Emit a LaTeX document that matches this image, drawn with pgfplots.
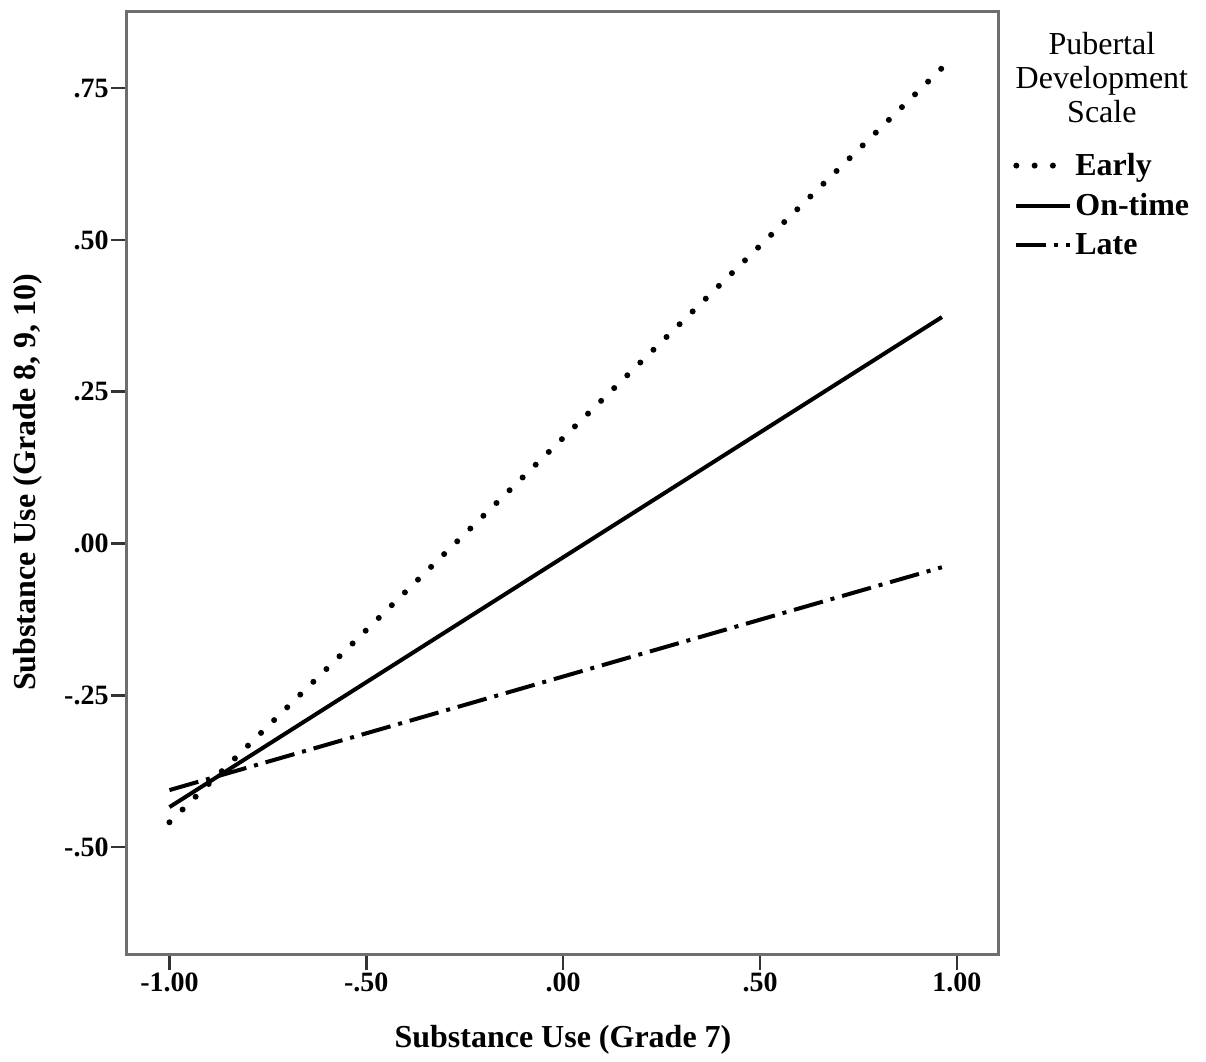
\documentclass[border=0pt]{standalone}
\usepackage{fontspec}
\setmainfont{Liberation Serif}
\usepackage{pgfplots}
\pgfplotsset{compat=1.18}
\definecolor{frame}{HTML}{6E6E6E}
\begin{document}
\begin{tikzpicture}
\begin{axis}[
  scale only axis, width=436pt, height=471.5pt,
  xmin=-1.108, xmax=1.107, ymin=-0.676, ymax=0.877,
  clip=false,
  axis line style={frame, line width=1.5pt},
  tick style={black!80, line width=1.3pt},
  tick align=outside, major tick length=8pt,
  xtick={-1,-0.5,0,0.5,1}, xticklabels={-1.00,-.50,.00,.50,1.00},
  ytick={-0.5,-0.25,0,0.25,0.5,0.75}, yticklabels={-.50,-.25,.00,.25,.50,.75},
  xtick pos=bottom, ytick pos=left,
  ticklabel style={font=\fontsize{14}{16}\selectfont\bfseries},
  xticklabel style={inner sep=1pt},
  yticklabel style={inner sep=1pt},
  xlabel={Substance Use (Grade 7)},
  ylabel={Substance Use (Grade 8, 9, 10)},
  label style={font=\fontsize{16}{18}\selectfont\bfseries},
  xlabel style={at={(axis description cs:0.5,-0.0912)}, anchor=center},
  ylabel style={at={(axis description cs:-0.1135,0.5)}, anchor=center},
  legend style={at={(axis description cs:1.016,0.852)}, anchor=north west,
    draw=none, fill=none, inner sep=0pt, row sep=5.5pt,
    font=\fontsize{16}{18}\selectfont\bfseries,
    nodes={inner sep=1pt}},
  legend cell align=left,
  legend image code/.code={\draw[#1] (0pt,0pt) -- (27pt,0pt);},
]
\addplot[black, line width=3pt, line cap=round, dash pattern=on 0pt off 9.14pt]
  coordinates {(-1,-0.459) (0.962,0.783)};
\addplot[black, line width=2pt]
  coordinates {(-1,-0.434) (0.962,0.373)};
\addplot[black, line width=2pt, dash pattern=on 15pt off 4pt on 2pt off 4pt]
  coordinates {(-1,-0.406) (0.962,-0.039)};
\legend{Early, On-time, Late}
\node[align=center, font=\fontsize{16}{17}\selectfont, anchor=center]
  at (axis description cs:1.118,0.929) {Pubertal\\Development\\Scale};
\coordinate (bbA) at (axis description cs:-0.1456,1.0117);
\coordinate (bbB) at (axis description cs:1.2374,-0.1113);
\end{axis}
\path (bbA) rectangle (bbB);
\end{tikzpicture}
\end{document}
